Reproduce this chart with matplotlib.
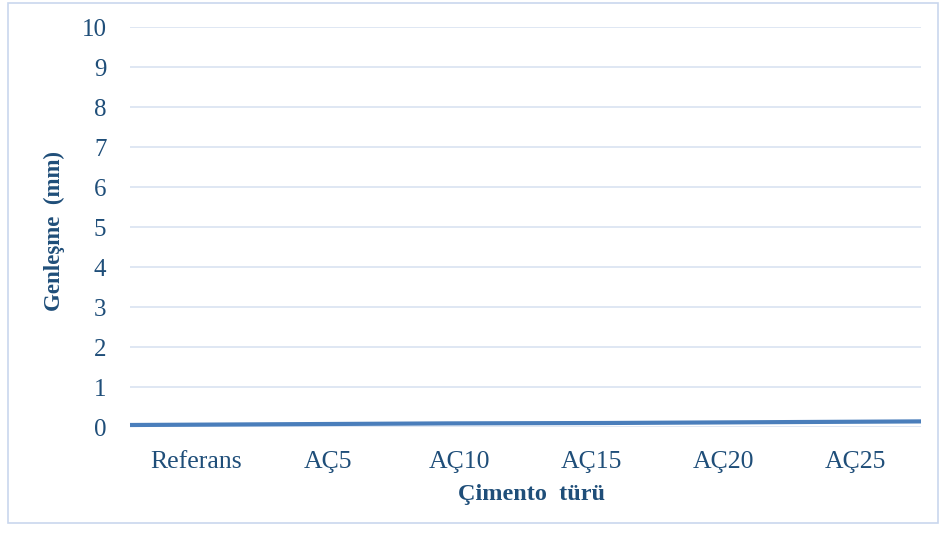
import matplotlib
matplotlib.use("Agg")
import matplotlib.pyplot as plt
from matplotlib.patches import Rectangle
import numpy as np

categories = ["Referans", "AÇ5", "AÇ10", "AÇ15", "AÇ20", "AÇ25"]
values = [0.05, 0.07, 0.09, 0.10, 0.12, 0.14]
yticks = list(range(0, 11))

plt.rcParams['font.family'] = ['Liberation Serif', 'DejaVu Serif']
txt = '#1F4E79'
grid = '#D6E0F0'

fig = plt.figure(figsize=(9.52, 5.35), dpi=100)
W, H = 952, 535
ax = fig.add_axes([130 / W, 1 - 427 / H, (921 - 130) / W, (427 - 27) / H])

# outer border
fig.patches.append(Rectangle((8 / W, 1 - 523 / H), (938 - 8) / W, (523 - 3) / H,
                             transform=fig.transFigure, fill=False,
                             edgecolor='#C9D7EE', linewidth=1.2))

n = len(categories)
ax.set_xlim(-0.5, n - 0.5)
ax.set_ylim(0, 10)
ax.set_yticks(yticks)
ax.set_yticklabels([str(t) for t in yticks], color=txt, fontsize=18)
ax.set_xticks(range(n))
ax.set_xticklabels(categories, color=txt, fontsize=18.5)
ax.tick_params(axis='x', length=0, pad=17)
ax.tick_params(axis='y', length=0, pad=17)
for t in yticks:
    ax.axhline(t, color=grid, linewidth=1.1, zorder=0)
for s in ax.spines.values():
    s.set_visible(False)

fig.text(54 / W, 1 - 231 / H, "Genleşme  (mm)", color=txt, fontsize=16.5, fontweight='bold',
         rotation=90, ha='center', va='center')
fig.text(532 / W, 1 - 500 / H, "Çimento  türü", color=txt, fontsize=17.5, fontweight='bold',
         ha='center', va='baseline')

# line spans full plot width (edge to edge)
ax2 = ax.twiny()
ax2.set_xlim(0, n - 1)
ax2.set_ylim(0, 10)
ax2.plot(range(n), values, color='#4A7EBB', linewidth=3, solid_capstyle='butt', clip_on=False)
ax2.axis('off')

fig.savefig("out.png", dpi=100)
